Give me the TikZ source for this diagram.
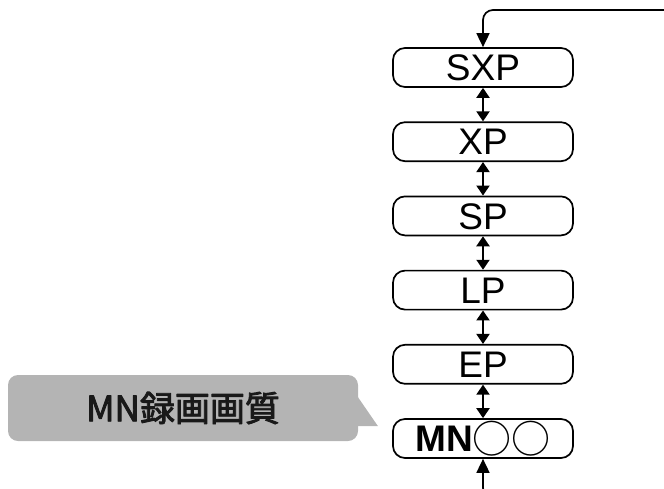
\documentclass[tikz,border=0pt]{standalone}
\usepackage{fontspec}
\setmainfont{Liberation Sans}
\newfontfamily\jpfont{Noto Sans CJK JP}
\newfontfamily\jpmedium[FakeBold=2.5]{Noto Sans CJK JP}
\usetikzlibrary{arrows.meta,calc,positioning}

\definecolor{calloutgray}{RGB}{180,180,180}

\begin{document}
\begin{tikzpicture}[x=1pt, y=1pt, line width=1.7pt, line join=round,
    >={Triangle[length=14pt,width=13pt]},
    modebox/.style={draw, rounded corners=12pt, minimum width=180pt, minimum height=39pt,
      inner sep=0pt, text height=26.5pt, text depth=0pt, font=\fontsize{37}{40}\selectfont},
    link/.style={line width=2pt, {Triangle[length=10pt,width=13pt]}-{Triangle[length=10pt,width=13pt]}}]
  \useasboundingbox (0,0) rectangle (664,-488);
  \clip (0,0) rectangle (664,-488);
  % recording modes
  \node[modebox] (sxp) at (483,-67.5) {SXP};
  \node[modebox, below=33.5pt of sxp] (xp) {XP};
  \node[modebox, below=33.5pt of xp] (sp) {SP};
  \node[modebox, below=33.5pt of sp] (lp) {LP};
  \node[modebox, below=33.5pt of lp] (ep) {EP};
  \node[modebox, below=33.5pt of ep] (mn) {{\bfseries MN}\raisebox{-1.5pt}{\jpfont\fontsize{39}{42}\selectfont ○○}};
  \foreach \a/\b in {sxp/xp, xp/sp, sp/lp, lp/ep, ep/mn} {
    \draw[link] (\a) -- (\b);
  }
  % wrap-around loop
  \coordinate (loopin) at (670,-10);
  \coordinate (loopback) at (700,-500);
  \draw[->, rounded corners=10pt] (loopin) -| (sxp);
  \draw[->, rounded corners=12pt] (loopback) -| (mn);
  % callout
  \node[fill=calloutgray, rounded corners=10pt, minimum width=350pt, minimum height=66pt,
    text=black!90, font=\jpmedium\fontsize{35}{38}\selectfont] (note) at (183,-408) {MN録画画質};
  \fill[calloutgray] ($(note.east)+(-1,11)$) -- ($(note.east)+(19,-18)$) -- ($(note.east)+(-1,-18)$) -- cycle;
\end{tikzpicture}
\end{document}
